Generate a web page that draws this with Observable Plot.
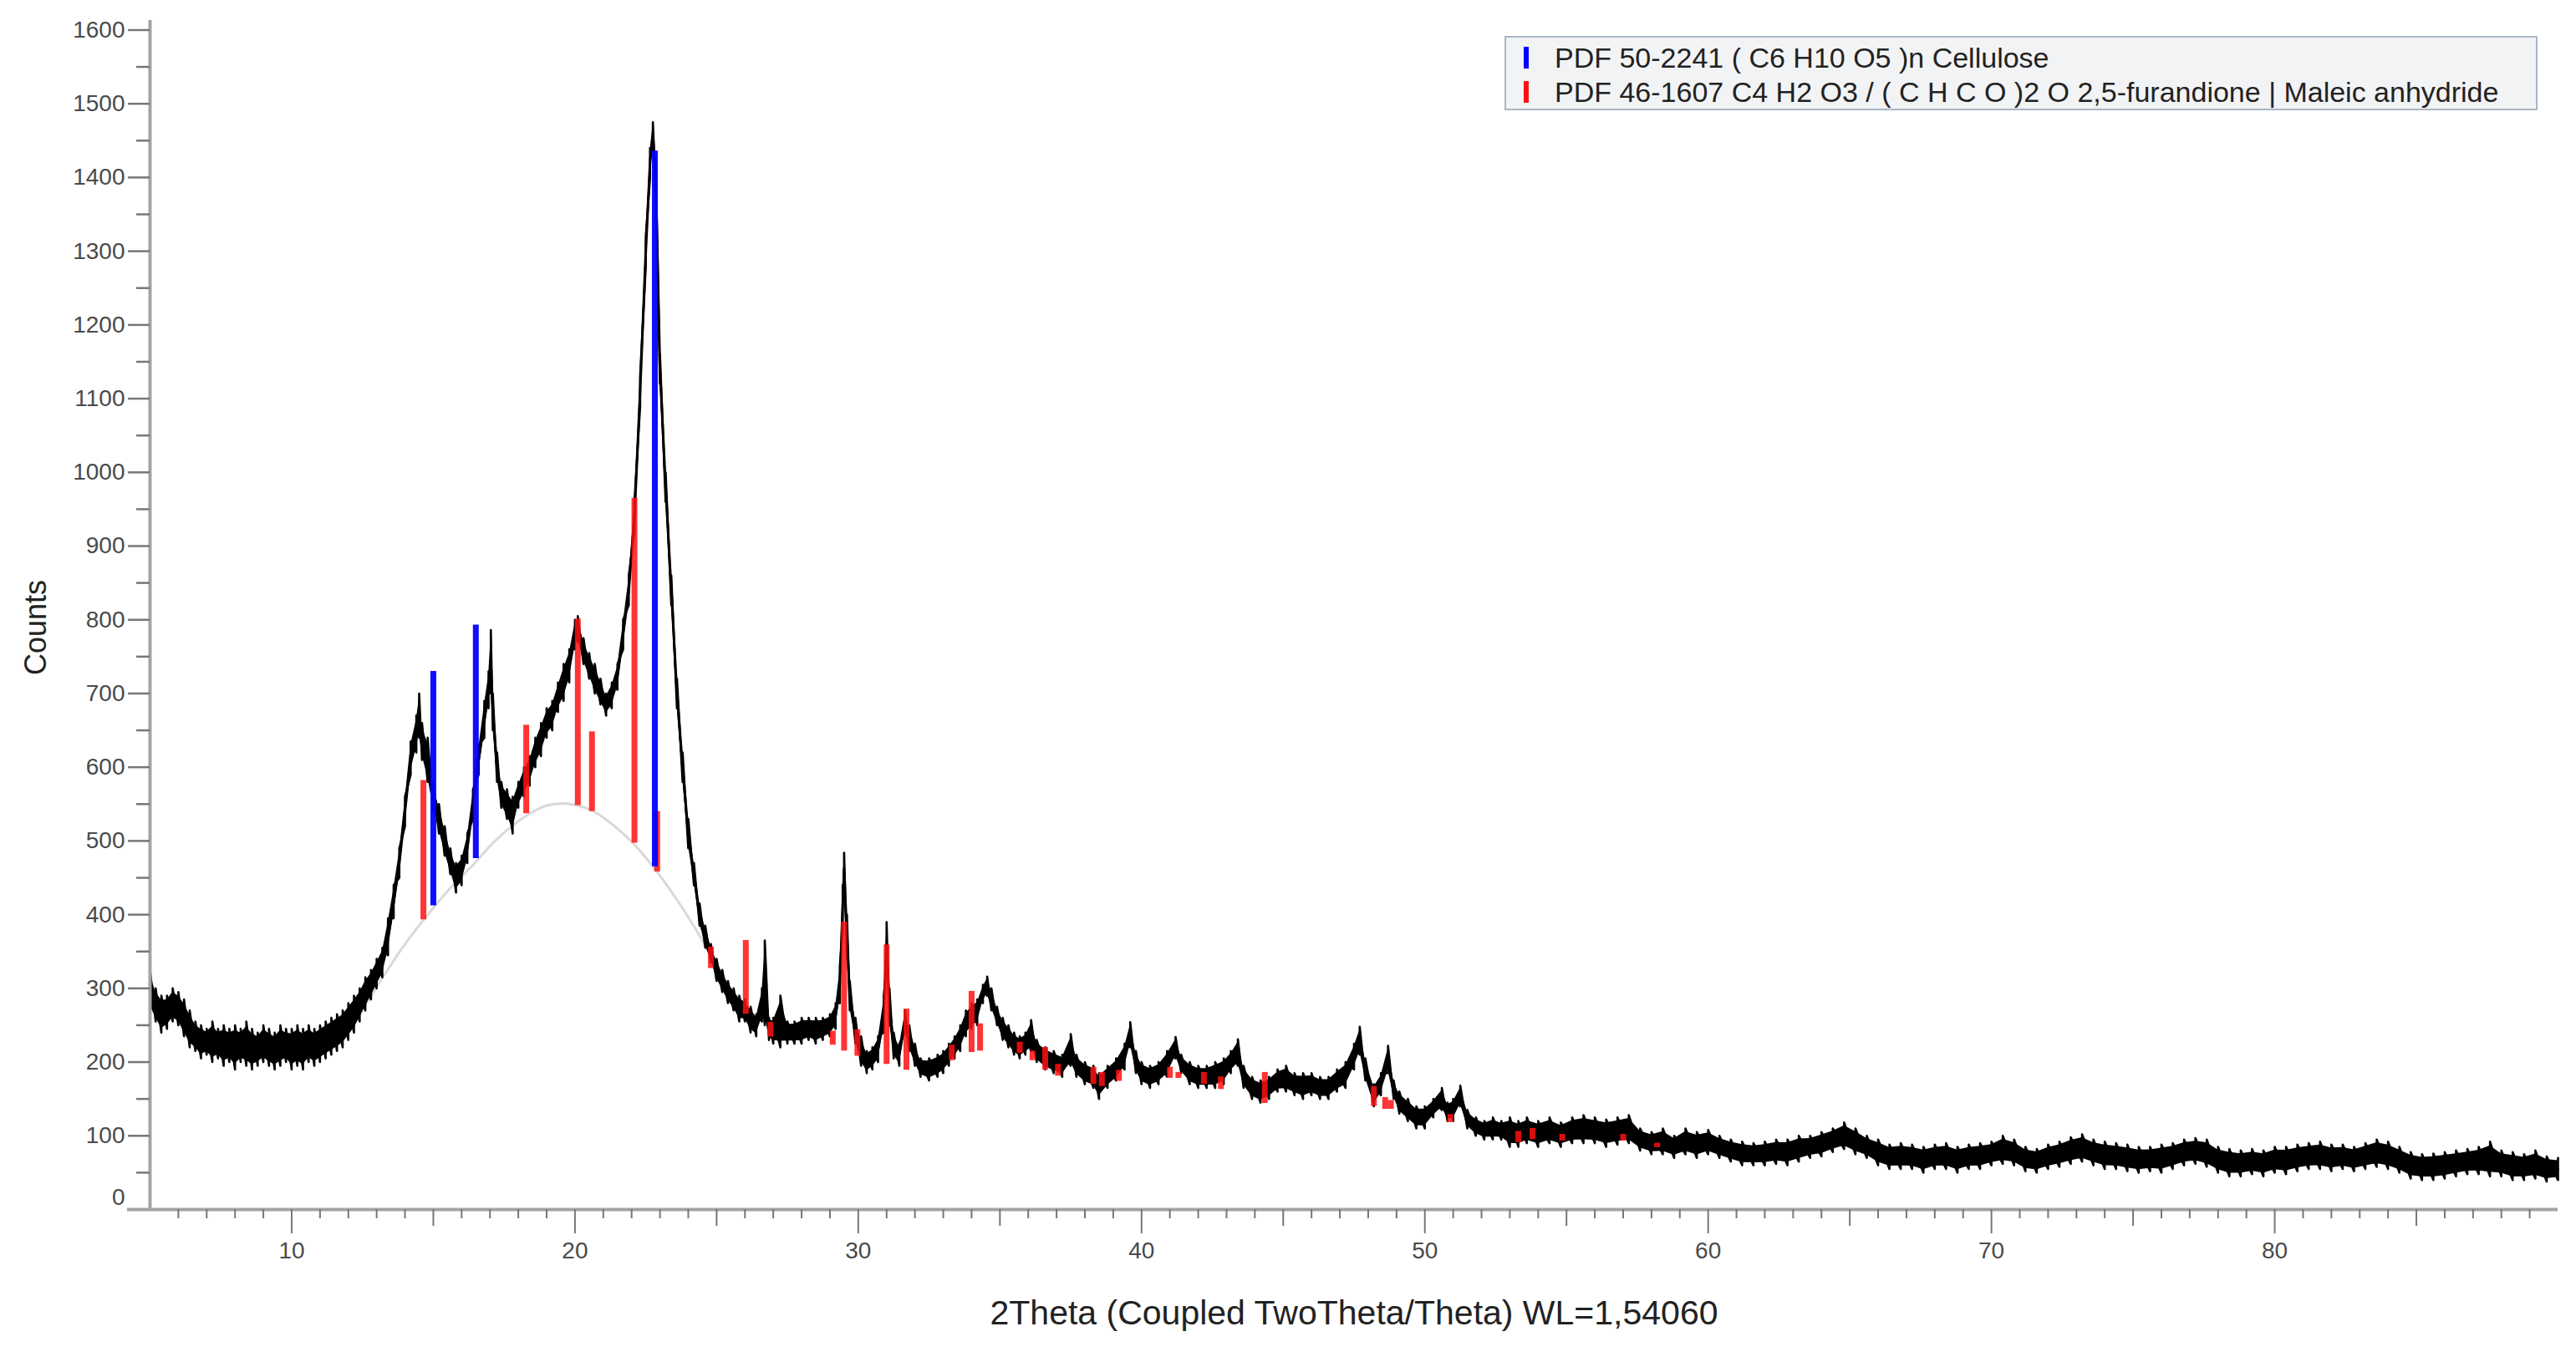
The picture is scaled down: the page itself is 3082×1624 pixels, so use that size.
<!DOCTYPE html>
<html>
<head>
<meta charset="utf-8">
<script src="https://cdn.jsdelivr.net/npm/d3@7"></script>
<script src="https://cdn.jsdelivr.net/npm/@observablehq/plot@0.6"></script>
<style>
  html, body { margin: 0; padding: 0; background: #ffffff; }
  #wrap { position: relative; width: 3082px; height: 1624px; font-family: "Liberation Sans", Arial, sans-serif; }
  #legend {
    position: absolute; left: 1800px; top: 43px; width: 1236px; height: 89px;
    background: #f2f3f5; border: 2px solid #a9b6c6; box-sizing: border-box;
  }
  .lg-sw { position: absolute; left: 21px; width: 6px; height: 26px; }
  .lg-tx { position: absolute; left: 58px; white-space: nowrap; font-size: 34px; line-height: 40px; color: #222; }
</style>
</head>
<body>
<div id="wrap"></div>
<script>
// ---- Measured pattern (2Theta, noise band low/high in counts) ----
const twoTheta = [
  5.0,5.2,5.4,5.6,5.8,6.0,6.2,6.4,6.6,6.8,7.0,7.2,7.4,7.6,7.8,8.0,8.2,8.4,8.6,8.8,
  9.0,9.2,9.4,9.6,9.8,10.0,10.2,10.4,10.6,10.8,11.0,11.2,11.4,11.6,11.8,12.0,12.2,12.4,12.6,12.8,
  13.0,13.2,13.4,13.6,13.8,14.0,14.2,14.4,14.5,14.6,14.8,15.0,15.2,15.4,15.6,15.8,16.0,16.2,16.4,16.6,
  16.8,16.95,17.03,17.1,17.25,17.4,17.6,17.8,18.0,18.2,18.4,18.6,18.8,19.0,19.2,19.4,19.6,19.8,20.0,20.1,
  20.3,20.5,20.7,20.9,21.1,21.3,21.5,21.7,21.9,22.1,22.3,22.5,22.65,22.75,22.85,23.0,23.2,23.4,23.6,23.8,
  24.0,24.2,24.4,24.6,24.8,25.0,25.2,25.4,25.6,25.8,26.0,26.2,26.4,26.6,26.7,26.85,27.0,27.25,27.5,27.75,
  28.0,28.25,28.5,28.75,29.0,29.2,29.35,29.45,29.5,29.6,29.7,29.9,30.1,30.3,30.5,30.7,30.9,31.0,31.1,31.25,
  31.45,31.65,31.8,32.0,32.2,32.5,32.8,33.0,33.2,33.4,33.6,33.8,34.0,34.2,34.4,34.55,34.7,34.9,35.1,35.3,
  35.5,35.7,35.9,36.1,36.3,36.6,36.9,37.2,37.5,37.7,38.0,38.3,38.5,38.8,39.1,39.4,39.6,39.8,40.0,40.3,
  40.6,40.9,41.2,41.4,41.7,42.0,42.3,42.6,42.9,43.15,43.4,43.6,43.9,44.2,44.5,44.8,45.1,45.4,45.7,46.0,
  46.3,46.6,46.9,47.2,47.5,47.7,47.9,48.2,48.45,48.7,48.9,49.1,49.4,49.7,50.0,50.3,50.6,50.8,51.0,51.25,
  51.5,51.8,52.1,52.4,52.7,53.0,53.3,53.6,54.0,54.4,54.8,55.2,55.6,56.0,56.4,56.8,57.2,57.6,58.0,58.4,
  58.8,59.2,59.6,60.0,60.4,60.8,61.2,61.6,62.0,62.4,62.8,63.2,63.6,64.0,64.4,64.8,65.2,65.6,66.0,66.4,
  66.8,67.2,67.6,68.0,68.4,68.8,69.2,69.6,70.0,70.4,70.8,71.2,71.6,72.0,72.4,72.8,73.2,73.6,74.0,74.4,
  74.8,75.2,75.6,76.0,76.4,76.8,77.2,77.6,78.0,78.4,78.8,79.2,79.6,80.0,80.4,80.8,81.2,81.6,82.0,82.4,
  82.8,83.2,83.6,84.0,84.4,84.8,85.2,85.6,86.0,86.4,86.8,87.2,87.6,88.0,88.4,88.8,89.2,89.6,90.0
];
const countsLow = [
  270,255,240,245,255,250,235,220,215,205,210,200,205,195,200,190,200,195,190,195,
  200,195,190,195,200,190,195,190,200,195,200,205,210,215,220,230,240,255,270,285,
  300,315,345,395,450,520,590,620,640,610,580,540,510,480,455,430,440,470,530,590,
  640,680,700,650,580,545,530,510,545,560,575,600,615,640,650,675,690,715,760,770,
  740,720,700,685,670,680,705,760,820,920,1090,1280,1400,1440,1380,1120,960,820,680,580,
  490,440,385,355,335,310,295,280,270,255,255,240,235,255,250,230,225,220,225,225,
  225,230,225,230,235,245,280,380,440,340,270,225,195,185,190,200,240,330,250,205,
  195,240,215,195,180,175,180,185,195,205,215,235,245,250,280,290,270,250,230,220,
  210,205,210,215,200,190,185,180,195,180,170,165,150,165,175,190,220,185,170,165,
  170,180,205,185,170,165,165,165,170,185,195,165,150,145,150,160,160,155,150,155,
  150,150,160,165,190,210,175,140,155,185,150,130,120,110,110,125,135,120,120,140,
  110,100,95,95,95,85,85,90,85,90,85,90,90,90,85,88,90,80,75,75,
  70,75,70,75,70,65,60,60,60,62,60,65,70,72,78,82,75,70,60,55,
  55,55,50,55,55,50,55,55,60,62,60,52,50,55,58,62,65,60,55,55,
  52,50,52,50,55,60,62,58,50,45,45,48,45,50,48,52,55,55,52,55,
  52,55,58,55,50,42,40,40,42,45,48,48,45,45,40,40,42,38,40
];
const countsHigh = [
  325,300,290,290,300,295,285,270,255,250,245,255,245,250,245,250,245,255,245,240,
  250,245,240,250,245,245,250,245,250,245,250,255,260,265,270,280,290,300,315,325,
  340,355,395,440,490,560,635,670,700,660,640,580,550,520,490,470,480,510,570,630,
  690,730,786,700,620,580,570,560,580,600,615,640,660,680,690,715,740,760,800,805,
  775,755,740,720,700,715,740,800,860,960,1130,1320,1440,1475,1420,1160,1000,860,720,620,
  530,470,415,385,360,340,325,310,300,290,285,275,265,300,365,260,260,290,255,255,
  260,260,260,260,265,280,330,440,484,400,310,260,235,215,220,235,290,390,300,240,
  225,270,250,225,205,205,210,215,225,235,250,270,280,285,305,316,300,275,260,250,
  240,235,240,257,230,220,215,210,238,210,200,195,185,195,205,225,254,215,200,195,
  200,215,234,210,200,195,195,200,205,215,231,195,180,175,180,190,195,185,185,185,
  180,180,190,200,225,248,205,170,185,222,175,160,150,140,140,150,165,145,150,168,
  135,125,120,125,120,125,120,125,120,125,118,125,128,125,122,125,128,110,105,110,
  100,110,105,108,100,95,92,90,92,95,95,100,100,105,110,118,110,100,95,88,
  90,88,85,88,90,85,88,90,92,100,95,85,82,88,92,98,102,95,92,90,
  88,85,85,88,90,95,97,95,85,82,80,82,80,85,85,88,90,92,88,88,
  85,90,95,92,85,78,75,76,78,80,82,85,92,80,78,75,80,72,70
];

// ---- Amorphous background hump (light grey curve) ----
const humpTheta  = [12.4,13.3,14.0,14.66,15.5,16.44,17.1,17.8,18.4,19.0,19.6,20.1,20.66,21.4,22.1,22.9,23.6,24.3,25.0,25.6];
const humpCounts = [265,320,360,393,432,469,497,521,537,548,551,548,540,520,495,458,420,378,330,290];

// ---- Reference patterns (sticks: position, base level, top level) ----
const cellulosePos  = [15.0, 16.5, 22.82];
const celluloseBase = [412, 476, 465];
const celluloseTop  = [730, 793, 1436];

const maleicPos  = [14.65,18.28,20.1,20.6,22.1,22.9,24.8,26.03,26.9,29.1,29.5,29.97,31.0,31.7,33.3,34.0,34.3,35.7,36.15,36.6,37.05,38.3,38.6,39.2,41.0,41.3,42.2,42.8,44.35,48.2,48.6,48.8,50.9,53.3,53.8,54.85,57.0,58.2];
const maleicBase = [393,537,548,540,497,458,327,265,234,223,215,208,197,189,202,213,215,212,202,189,181,170,167,174,178,178,170,163,144,140,136,136,118,91,95,93,93,84];
const maleicTop  = [582,657,801,648,965,540,356,365,254,242,390,244,359,272,223,296,252,227,215,220,197,193,186,189,193,186,186,180,186,167,152,148,129,106,110,102,102,90];

// ---- Axis ticks and labels ----
const yMajorTicks = d3.range(100, 1601, 100);
const yMinorTicks = d3.range(50, 1601, 100);
const xMajorTicks = [10, 20, 30, 40, 50, 60, 70, 80];
const xMidTicks   = [15, 25, 35, 45, 55, 65, 75, 85];
const xMinorTicks = d3.range(6, 90).filter(v => v % 5 !== 0);
const xTitle = "2Theta (Coupled TwoTheta/Theta) WL=1,54060";
const yTitle = "Counts";
const legendItems = [
  {label: "PDF 50-2241 ( C6 H10 O5 )n Cellulose", color: "#0000ff"},
  {label: "PDF 46-1607 C4 H2 O3 / ( C H C O )2 O 2,5-furandione | Maleic anhydride", color: "#ff1010"}
];

// ---- Build tables ----
const trace = twoTheta.map((t, i) => ({t, lo: countsLow[i], hi: countsHigh[i]}));
// core of the noise band (inner part of the measured low/high range)
const core = trace.map(d => ({t: d.t, a: d.lo + 0.12 * (d.hi - d.lo), b: d.hi - 0.12 * (d.hi - d.lo)}));
// noise excursions: each measured sample drawn from its low to its high
const zig = trace.flatMap(d => [{t: d.t, c: d.lo}, {t: d.t, c: d.hi}]);
const hump = humpTheta.map((t, i) => ({t, c: humpCounts[i]}));
const cell = cellulosePos.map((t, i) => ({t, b: celluloseBase[i], h: celluloseTop[i]}));
const mal = maleicPos.map((t, i) => ({t, b: maleicBase[i], h: maleicTop[i]}));

const axisGrey = "#a3a3a3";
const tickGrey = "#777";
const labelCol = "#4a4a4a";

const chart = Plot.plot({
  width: 3082,
  height: 1624,
  marginLeft: 179,
  marginRight: 22,
  marginTop: 24,
  marginBottom: 177,
  x: {domain: [5, 90]},
  y: {domain: [0, 1613]},
  style: {fontFamily: '"Liberation Sans", Arial, sans-serif', background: "#ffffff", overflow: "visible"},
  marks: [
    // background hump
    Plot.line(hump, {x: "t", y: "c", stroke: "#d9d9d9", strokeWidth: 3, curve: "catmull-rom"}),
    // measured pattern
    Plot.areaY(core, {x: "t", y1: "a", y2: "b", fill: "#000"}),
    Plot.line(zig, {x: "t", y: "c", stroke: "#000", strokeWidth: 2.6}),
    Plot.line(trace, {x: "t", y: d => (d.lo + d.hi) / 2, stroke: "#000", strokeWidth: 3}),
    // reference sticks
    Plot.ruleX(mal, {x: "t", y1: "b", y2: "h", stroke: "#ff1010", strokeWidth: 7, strokeOpacity: 0.85}),
    Plot.ruleX(cell, {x: "t", y1: "b", y2: "h", stroke: "#0000ff", strokeWidth: 7, strokeOpacity: 0.95}),
    // axis lines
    Plot.ruleX([5], {stroke: axisGrey, strokeWidth: 4}),
    Plot.ruleY([0], {stroke: axisGrey, strokeWidth: 4, insetLeft: -27}),
    // y axis ticks
    Plot.axisY(yMajorTicks, {tickSize: 26, tickPadding: 4, fontSize: 28, tickFormat: "d", stroke: tickGrey, strokeWidth: 2.5, color: labelCol, label: null}),
    Plot.axisY(yMinorTicks, {tickSize: 16, stroke: tickGrey, strokeWidth: 2.5, text: null, label: null}),
    Plot.axisY([0], {tickSize: 26, tickPadding: 4, fontSize: 28, tickFormat: "d", stroke: "none", color: labelCol, dy: -14, label: null}),
    // x axis ticks
    Plot.axisX(xMajorTicks, {tickSize: 29, tickPadding: 10, fontSize: 28, stroke: tickGrey, strokeWidth: 2, color: labelCol, label: null}),
    Plot.axisX(xMidTicks, {tickSize: 20, stroke: tickGrey, strokeWidth: 2, text: null, label: null}),
    Plot.axisX(xMinorTicks, {tickSize: 11, stroke: tickGrey, strokeWidth: 2, text: null, label: null}),
    // titles
    Plot.text([yTitle], {frameAnchor: "left", textAnchor: "middle", dx: -136, dy: 15, rotate: -90, fontSize: 36, fill: "#222"}),
    Plot.text([xTitle], {frameAnchor: "bottom", textAnchor: "middle", dy: 137, fontSize: 41, fill: "#222"})
  ]
});

const wrap = document.getElementById("wrap");
wrap.appendChild(chart);

// legend overlay (top right, inside plot area)
const lg = document.createElement("div");
lg.id = "legend";
legendItems.forEach((d, i) => {
  const sw = document.createElement("div");
  sw.className = "lg-sw";
  sw.style.background = d.color;
  sw.style.top = (11 + i * 41) + "px";
  const tx = document.createElement("div");
  tx.className = "lg-tx";
  tx.textContent = d.label;
  tx.style.top = (4 + i * 41) + "px";
  lg.appendChild(sw);
  lg.appendChild(tx);
});
wrap.appendChild(lg);
</script>
</body>
</html>
